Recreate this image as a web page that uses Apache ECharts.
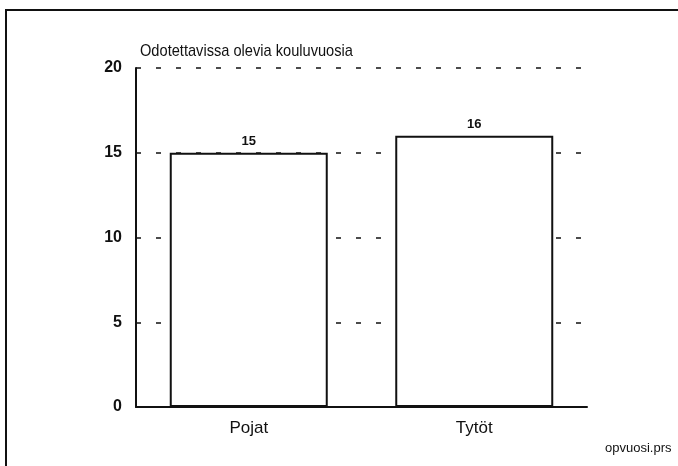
<!DOCTYPE html>
<html>
<head>
<meta charset="utf-8">
<script src="https://cdn.jsdelivr.net/npm/echarts@6/dist/echarts.min.js"></script>
<style>
  html, body { margin: 0; padding: 0; background: #fff; }
  #chart { width: 678px; height: 466px; }
</style>
</head>
<body>
<div id="chart"></div>
<script>
  var categories = ['Pojat', 'Tytöt'];
  var values = [15, 16];
  var yTicks = [0, 5, 10, 15, 20];

  var font = '"Liberation Sans", Arial, sans-serif';
  var myChart = echarts.init(document.getElementById('chart'));

  var option = {
    backgroundColor: '#fff',
    animation: false,
    grid: { left: 136, right: 91, top: 68, bottom: 59 },
    graphic: [
      {
        type: 'polyline',
        shape: { points: [[6, 466], [6, 10], [678, 10]] },
        style: { stroke: '#111', lineWidth: 2, fill: null }
      },
      {
        // title is a condensed face in the original, squeeze it a bit
        type: 'text',
        x: 140, y: 43,
        scaleX: 0.86,
        style: { text: 'Odotettavissa olevia kouluvuosia', font: '17px ' + font, fill: '#111' }
      },
      {
        type: 'text',
        x: 605, y: 442,
        style: { text: 'opvuosi.prs', font: '13px ' + font, fill: '#111' }
      }
    ],
    xAxis: {
      type: 'category',
      data: categories,
      axisLine: { lineStyle: { color: '#111', width: 2 } },
      axisTick: { show: false },
      axisLabel: { color: '#111', fontSize: 17, fontFamily: font, margin: 13 }
    },
    yAxis: {
      type: 'value',
      min: yTicks[0],
      max: yTicks[yTicks.length - 1],
      interval: 5,
      axisLine: { show: true, lineStyle: { color: '#111', width: 2 } },
      axisTick: { show: false },
      axisLabel: { color: '#111', fontSize: 16, fontFamily: font, fontWeight: 'bold', margin: 14 },
      splitLine: {
        show: true,
        lineStyle: { color: '#111', width: 1.5, type: [5, 15] }
      }
    },
    series: [{
      type: 'bar',
      data: values,
      barWidth: 158,
      itemStyle: { color: '#fff', borderColor: '#111', borderWidth: 2 },
      label: {
        show: true,
        position: 'top',
        distance: 5,
        color: '#111',
        fontSize: 13,
        fontFamily: font,
        fontWeight: 'bold'
      }
    }]
  };
  myChart.setOption(option);
</script>
</body>
</html>
